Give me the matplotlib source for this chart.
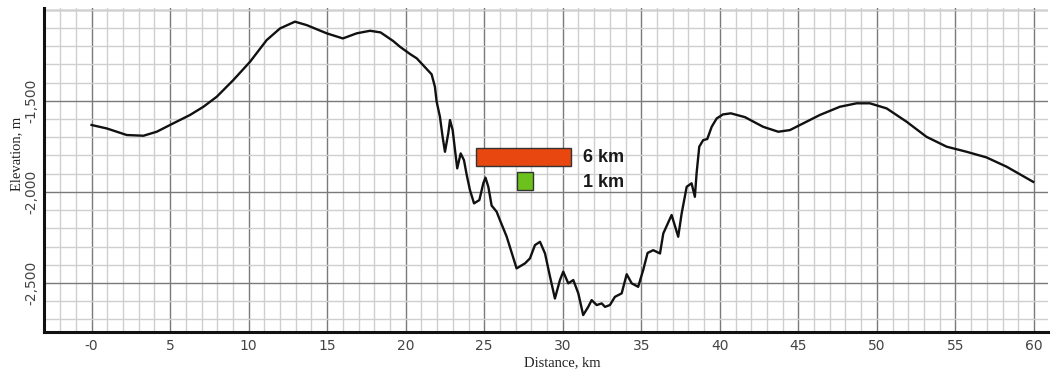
import matplotlib
matplotlib.use("Agg")
import matplotlib.pyplot as plt
from matplotlib.patches import Rectangle
from matplotlib.ticker import MultipleLocator, FixedLocator

# Elevation profile along the section line
distance_km = [
    0.0, 0.97, 2.24, 3.3, 4.15, 5.2, 6.27, 7.12, 7.97, 9.03, 10.09, 11.15,
    12.0, 12.95, 13.7, 14.97, 16.0, 16.88, 17.73, 18.4, 19.2, 19.64, 20.3,
    20.7, 21.1, 21.65, 21.86, 21.97, 22.18, 22.35, 22.5, 22.71, 22.82, 22.99,
    23.14, 23.28, 23.5, 23.71, 23.88, 24.09, 24.35, 24.69, 24.94, 25.08,
    25.26, 25.47, 25.79, 26.0, 26.43, 27.06, 27.6, 27.91, 28.23, 28.55,
    28.87, 29.19, 29.5, 29.82, 30.03, 30.35, 30.67, 30.99, 31.3, 31.62,
    31.84, 32.16, 32.48, 32.69, 33.0, 33.32, 33.75, 34.07, 34.39, 34.8,
    35.12, 35.4, 35.76, 36.19, 36.4, 36.93, 37.35, 37.57, 37.89, 38.2,
    38.41, 38.52, 38.69, 38.94, 39.2, 39.48, 39.8, 40.2, 40.7, 41.6, 42.76,
    43.72, 44.46, 45.31, 46.37, 47.64, 48.71, 49.55, 50.62, 51.89, 53.16,
    54.44, 55.71, 56.98, 58.26, 59.95,
]
elevation_m = [
    -1633, -1652, -1688, -1692, -1670, -1624, -1578, -1533, -1478, -1386,
    -1286, -1167, -1103, -1066, -1085, -1130, -1158, -1130, -1116, -1125,
    -1172, -1204, -1245, -1267, -1304, -1355, -1423, -1505, -1588, -1698,
    -1780, -1679, -1606, -1661, -1771, -1871, -1789, -1826, -1905, -1990,
    -2063, -2045, -1953, -1922, -1972, -2075, -2109, -2155, -2246, -2420,
    -2392, -2365, -2292, -2274, -2338, -2466, -2585, -2484, -2438, -2502,
    -2484, -2557, -2676, -2631, -2594, -2621, -2612, -2631, -2621, -2576,
    -2557, -2452, -2502, -2521, -2429, -2335, -2320, -2338, -2228, -2127,
    -2246, -2118, -1972, -1953, -2027, -1898, -1752, -1716, -1710, -1643,
    -1597, -1575, -1569, -1590, -1643, -1670, -1661, -1624, -1578, -1533,
    -1514, -1514, -1542, -1615, -1698, -1752, -1780, -1811, -1862, -1945,
]

x_ticks = [0, 5, 10, 15, 20, 25, 30, 35, 40, 45, 50, 55, 60]
x_tick_labels = ["-0", "5", "10", "15", "20", "25", "30", "35", "40",
                 "45", "50", "55", "60"]
y_ticks = [-2500, -2000, -1500]
y_tick_labels = ["-2,500", "-2,000", "-1,500"]

# Scale bars: length in km and their labels
scale_lengths_km = [6, 1]
scale_labels = ["6 km", "1 km"]

fig = plt.figure(figsize=(10.52, 3.72), dpi=100)
ax = fig.add_axes([0.0418, 0.1075, 0.9542, 0.871])

ax.set_xlim(-3.03, 60.88)
ax.set_ylim(-2769, -991)

# Grid: light minor lines every 1 km / 100 m, darker major lines
ax.xaxis.set_minor_locator(MultipleLocator(1))
ax.yaxis.set_minor_locator(MultipleLocator(100))
ax.xaxis.set_major_locator(FixedLocator(x_ticks))
ax.yaxis.set_major_locator(FixedLocator(y_ticks))
ax.grid(which="minor", color="#cfcfcf", linewidth=1.0)
ax.grid(which="major", color="#7a7a7a", linewidth=1.0)
ax.axhline(-1000, color="#7a7a7a", linewidth=1.0, zorder=0.5)
ax.set_axisbelow(True)

ax.set_xticklabels(x_tick_labels)
ax.set_yticklabels(y_tick_labels, rotation=90, va="center")
ax.tick_params(which="both", length=0)
ax.tick_params(axis="x", pad=5, labelsize=10, labelcolor="#444444")
ax.tick_params(axis="y", pad=4, labelsize=10, labelcolor="#444444")
for lab in ax.get_xticklabels() + ax.get_yticklabels():
    lab.set_family("DejaVu Sans")

for side in ("top", "right"):
    ax.spines[side].set_visible(False)
for side in ("left", "bottom"):
    ax.spines[side].set_linewidth(2.2)
    ax.spines[side].set_color("#111111")

ax.plot(distance_km, elevation_m, color="#111111", linewidth=1.7, zorder=3)

# Scale bars
bar_x0 = [24.5, 27.1]
bar_y0 = [-1858, -1990]
bar_h = [98, 100]
bar_colors = ["#e8470f", "#6cc11c"]
for x0, y0, w, h, c in zip(bar_x0, bar_y0, scale_lengths_km, bar_h, bar_colors):
    ax.add_patch(Rectangle((x0, y0), w, h, facecolor=c, edgecolor="#333333",
                           linewidth=1.0, zorder=4))
label_y = [-1809, -1946]
for txt, ly in zip(scale_labels, label_y):
    ax.text(31.28, ly, txt, fontsize=13, fontweight="bold", color="#1a1a1a",
            family="Liberation Sans", va="center", ha="left", zorder=5)

ax.set_xlabel("Distance, km", family="Liberation Serif", fontsize=10.5,
              color="#222222")
ax.xaxis.set_label_coords(0.516, -0.074)
ax.set_ylabel("Elevation, m", family="Liberation Serif", fontsize=10.5,
              color="#222222")
ax.yaxis.set_label_coords(-0.021, 0.55)

fig.savefig("out.png", dpi=100)
